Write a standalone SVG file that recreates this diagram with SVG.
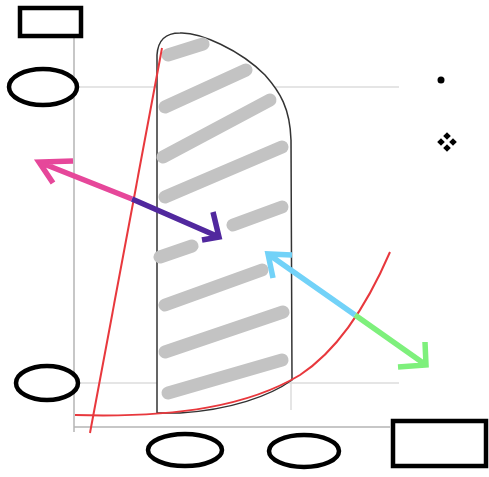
<svg xmlns="http://www.w3.org/2000/svg" width="489" height="477" viewBox="0 0 489 477">
<style>
.grid{stroke:#dcdcdc;stroke-width:1.5;fill:none}
.axis{stroke:#b4b4b4;stroke-width:1.5;fill:none}
.node{fill:#fff;stroke:#000;stroke-width:4.5}
.stripe{stroke:#c3c3c3;stroke-width:13;stroke-linecap:round;fill:none}
.red{stroke:#e8383d;stroke-width:2;fill:none}
.arr{stroke-width:5.5;fill:none;stroke-linecap:butt;stroke-linejoin:miter}
.dia{fill:#000}
</style>
<defs>
<path id="d" d="M0,-3.8 L3.8,0 L0,3.8 L-3.8,0 Z"/>
</defs>
<rect width="489" height="477" fill="#fff"/>
<g id="plot">
<line class="grid" x1="74" y1="87" x2="399" y2="87"/>
<line class="grid" x1="74" y1="383" x2="399" y2="383"/>
<line class="grid" x1="291" y1="140" x2="291" y2="410"/>
<line class="axis" x1="74" y1="38" x2="74" y2="432"/>
<line class="axis" x1="74" y1="427" x2="390" y2="427"/>
<path d="M157,413 L157,55 C158,40 165,33 180,33 C200,32 240,50 265,75 C280,92 290,108 291,140 L292,380 C270,396 230,410 180,413 Z" fill="#fff" stroke="#333" stroke-width="1.5"/>
<g class="stripe">
<line x1="168" y1="55" x2="203" y2="44"/>
<line x1="165" y1="107" x2="246" y2="70"/>
<line x1="163" y1="157" x2="270" y2="100"/>
<line x1="165" y1="197" x2="282" y2="147"/>
<line x1="160" y1="257" x2="192" y2="246"/>
<line x1="233" y1="225" x2="282" y2="207"/>
<line x1="165" y1="305" x2="262" y2="270"/>
<line x1="165" y1="352" x2="283" y2="312"/>
<line x1="168" y1="393" x2="282" y2="360"/>
</g>
<line class="red" x1="162" y1="48" x2="90" y2="433"/>
<path class="red" d="M75,415 C180,418 250,405 300,375 C335,352 365,310 390,252"/>
</g>
<g id="connectors">
<path class="arr" stroke="#e6479a" d="M132,199 L39,162 M73,161 L39,162 L53,183"/>
<path class="arr" stroke="#51289e" d="M132,199 L219,237 M213,212 L219,237 L202,240"/>
<path class="arr" stroke="#72d2f8" d="M355,315 L268,254 M292,255 L268,254 L273,278"/>
<path class="arr" stroke="#7ef07c" d="M355,315 L426,365 M425,342 L426,365 L398,367"/>
</g>
<g id="node-rect-top"><rect class="node" x="20" y="8" width="61" height="28"/></g>
<g id="node-ellipse-left-top"><ellipse class="node" cx="43" cy="87" rx="34" ry="18"/></g>
<g id="node-ellipse-left-bottom"><ellipse class="node" cx="47" cy="383" rx="31" ry="17"/></g>
<g id="node-ellipse-bottom-1"><ellipse class="node" cx="185" cy="450" rx="37" ry="16"/></g>
<g id="node-ellipse-bottom-2"><ellipse class="node" cx="304" cy="451" rx="35" ry="16"/></g>
<g id="node-rect-bottom"><rect class="node" x="393" y="421" width="93" height="45"/></g>
<g id="node-dot"><circle cx="441" cy="80" r="3.5" fill="#000"/></g>
<g id="node-diamonds" class="dia">
<use href="#d" x="447" y="136"/>
<use href="#d" x="441" y="142"/>
<use href="#d" x="453" y="142"/>
<use href="#d" x="447" y="148"/>
</g>
</svg>
